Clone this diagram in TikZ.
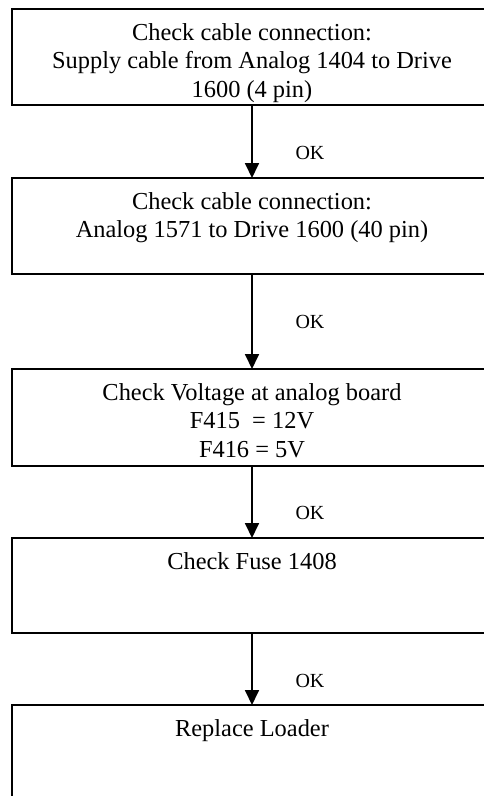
\documentclass[tikz,border=0pt]{standalone}
\usepackage{fontspec}
\setmainfont{Liberation Serif}
\usetikzlibrary{arrows.meta}
\tikzset{
  box/.style={draw=black, line width=1.8pt, inner sep=0pt, outer sep=0pt, minimum width=480pt},
  txt/.style={anchor=north, inner sep=0pt, align=center, font=\fontsize{24.4}{28.5}\selectfont},
  oklab/.style={inner sep=0pt, font=\fontsize{20}{24}\selectfont, xshift=58pt},
  arr/.style={line width=1.8pt, -{Triangle[width=14pt,length=15pt]}}
}
\newcommand{\topstrut}{\rule{0pt}{20pt}}
\begin{document}
\begin{tikzpicture}[x=1pt,y=-1pt]
\useasboundingbox (0,0) rectangle (484,796);
\node[box, minimum height=96pt] (b1) at (252,57) {};
\node[box, minimum height=96pt] (b2) at (252,226) {};
\node[box, minimum height=97pt] (b3) at (252,417.5) {};
\node[box, minimum height=95pt] (b4) at (252,585.5) {};
\node[box, minimum height=115pt] (b5) at (252,762.5) {};

\node[txt] (t1) at ([yshift=-11pt]b1.north) {\topstrut Check cable connection:\\Supply cable from Analog 1404 to Drive\\1600 (4 pin)};
\node[txt] (t2) at ([yshift=-11pt]b2.north) {\topstrut Check cable connection:\\Analog 1571 to Drive 1600 (40 pin)};
\node[txt] (t3) at ([yshift=-11pt]b3.north) {\topstrut Check Voltage at analog board\\F415 \ = 12V\\F416 = 5V};
\node[txt] (t4) at ([yshift=-11pt]b4.north) {\topstrut Check Fuse 1408};
\node[txt] (t5) at ([yshift=-11pt]b5.north) {\topstrut Replace Loader};

\draw[arr] (b1.south) -- node[oklab, pos=0.66] (ok1) {OK} (b2.north);
\draw[arr] (b2.south) -- node[oklab, pos=0.505] (ok2) {OK} (b3.north);
\draw[arr] (b3.south) -- node[oklab, pos=0.65] (ok3) {OK} (b4.north);
\draw[arr] (b4.south) -- node[oklab, pos=0.67] (ok4) {OK} (b5.north);
\end{tikzpicture}
\end{document}
